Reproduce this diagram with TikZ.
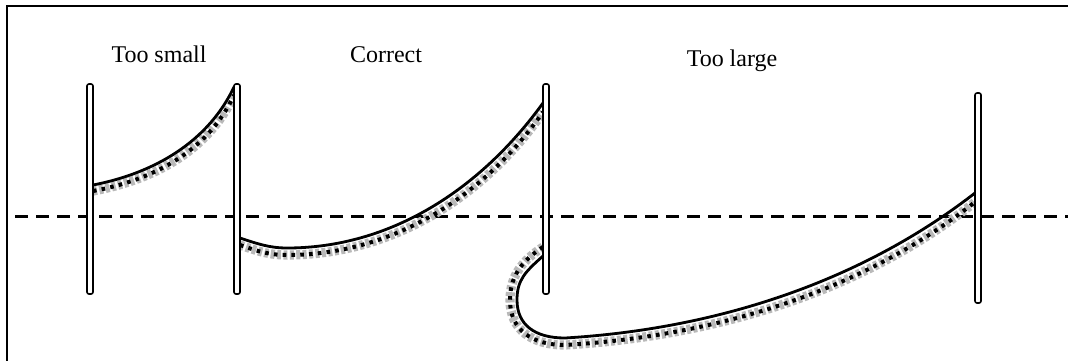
\documentclass[tikz,border=0pt]{standalone}
\usepackage{fontspec}
\setmainfont{Liberation Serif}

\begin{document}
\begin{tikzpicture}[
    x=0.5pt, y=-0.5pt,
    frame/.style={
        line width=1pt
    },
    axis/.style={
        line width=1.5pt,
        dash pattern=on 6.5pt off 4pt
    },
    plate/.style={
        draw,
        fill=white,
        line width=0.8pt,
        rounded corners=1pt
    },
    rope/.style={
        line width=1.4pt
    },
    ghost/.style={
        line width=4.6pt,
        draw=gray!55,
        dash pattern=on 2pt off 1.2pt
    },
    ghostdots/.style={
        line width=2pt,
        dash pattern=on 1.8pt off 2.6pt
    },
    tag/.style={
        font=\fontsize{12}{14}\selectfont,
        anchor=base
    }
]
    \useasboundingbox (0,0) rectangle (1068,360);
    \clip (0,0) rectangle (1068,360);

    % Frame
    \draw[frame] (7,370) -- (7,6) -- (1080,6);

    % Labels
    \node[tag] (small) at (159,62) {Too small};
    \node[tag] (correct) at (386,62) {Correct};
    \node[tag] (large) at (732,66) {Too large};

    % Axis
    \draw[axis] (15,216) -- (1068,216);

    % Too small
    \draw[ghost] (93,191) .. controls (148,181) and (207,154) .. (234,95);
    \draw[ghostdots] (93,191) .. controls (148,181) and (207,154) .. (234,95);
    \draw[rope] (93,185) .. controls (145,175) and (205,148) .. (234,87);

    % Correct
    \draw[ghost] (240,245) .. controls (260,252) and (270,255) .. (287,255)
        .. controls (392,255) and (484,197) .. (543,112);
    \draw[ghostdots] (240,245) .. controls (260,252) and (270,255) .. (287,255)
        .. controls (392,255) and (484,197) .. (543,112);
    \draw[rope] (240,238) .. controls (258,244) and (270,248) .. (287,248)
        .. controls (390,248) and (480,190) .. (543,103);

    % Too large
    \draw[ghost] (543,247) .. controls (520,262) and (510,278) .. (510,300)
        .. controls (510,330) and (532,345) .. (565,345)
        .. controls (702,337) and (854,298) .. (975,202);
    \draw[ghostdots] (543,247) .. controls (520,262) and (510,278) .. (510,300)
        .. controls (510,330) and (532,345) .. (565,345)
        .. controls (702,337) and (854,298) .. (975,202);
    \draw[rope] (543,256) .. controls (525,272) and (517,280) .. (517,300)
        .. controls (517,325) and (535,338) .. (565,338)
        .. controls (700,330) and (850,290) .. (975,193);

    % Plates
    \draw[plate] (87,84) rectangle (93,294);
    \draw[plate] (234,84) rectangle (240,294);
    \draw[plate] (543,84) rectangle (549,294);
    \draw[plate] (975,93) rectangle (981,303);

\end{tikzpicture}
\end{document}
